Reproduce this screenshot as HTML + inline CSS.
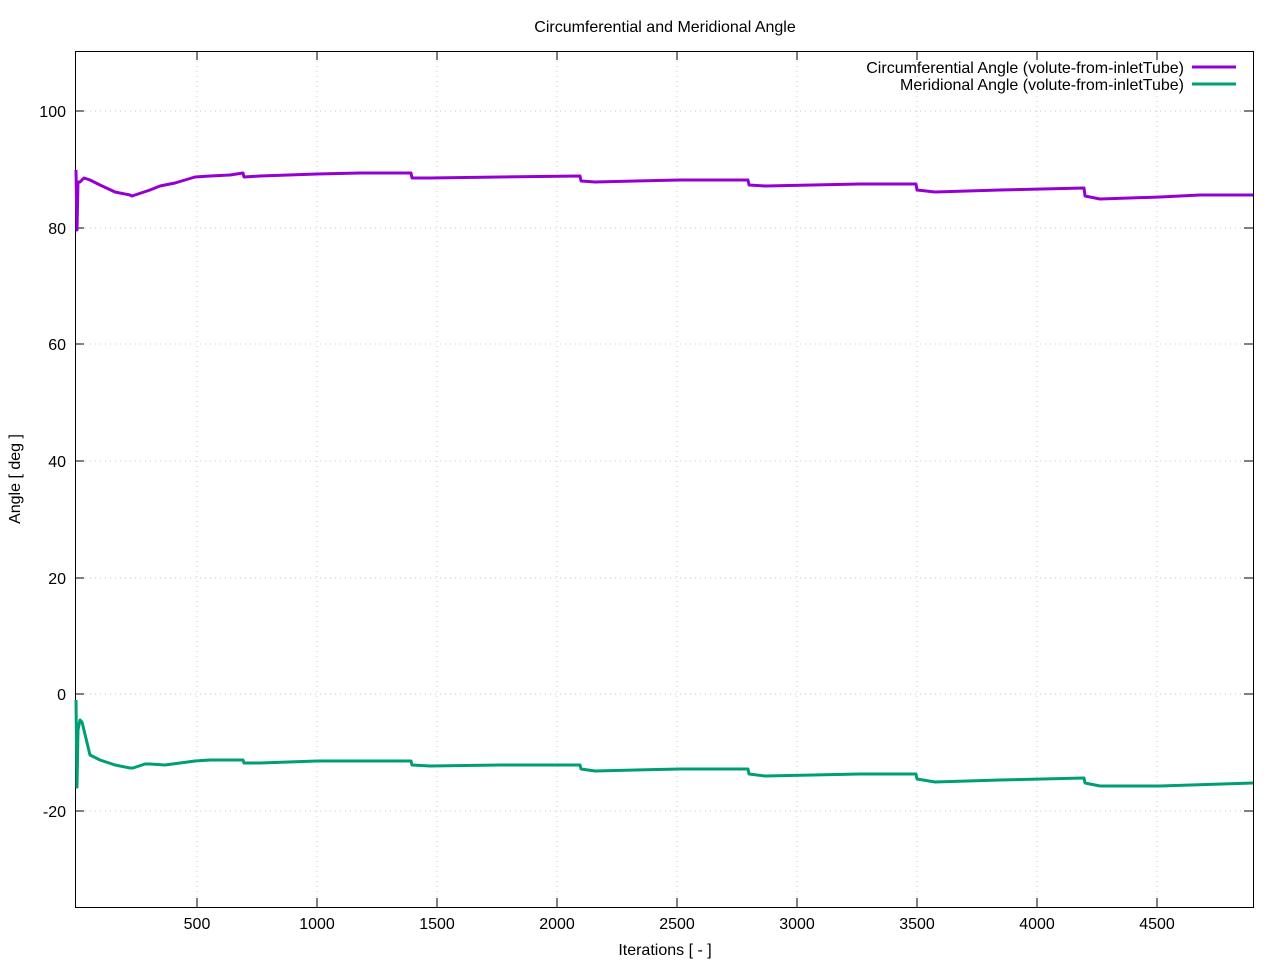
<!DOCTYPE html>
<html><head><meta charset="utf-8"><style>body{margin:0;background:#fff}svg{display:block;font-family:"Liberation Sans",sans-serif}</style></head><body>
<svg width="1280" height="960" viewBox="0 0 1280 960">
<rect width="1280" height="960" fill="#fff"/>
<g stroke="#c8c8c8" stroke-width="1" stroke-dasharray="1,4">
<line x1="197" y1="51" x2="197" y2="907"/><line x1="317" y1="51" x2="317" y2="907"/><line x1="437" y1="51" x2="437" y2="907"/><line x1="557" y1="51" x2="557" y2="907"/><line x1="677" y1="51" x2="677" y2="907"/><line x1="797" y1="51" x2="797" y2="907"/><line x1="917" y1="51" x2="917" y2="907"/><line x1="1037" y1="51" x2="1037" y2="907"/><line x1="1157" y1="51" x2="1157" y2="907"/>
<line x1="75" y1="111" x2="1253" y2="111"/><line x1="75" y1="228" x2="1253" y2="228"/><line x1="75" y1="344" x2="1253" y2="344"/><line x1="75" y1="461" x2="1253" y2="461"/><line x1="75" y1="578" x2="1253" y2="578"/><line x1="75" y1="694" x2="1253" y2="694"/><line x1="75" y1="811" x2="1253" y2="811"/>
</g>
<g stroke="#000" stroke-width="1">
<rect x="75.5" y="51.5" width="1178" height="856" fill="none"/>
<path d="M197,907v-9M317,907v-9M437,907v-9M557,907v-9M677,907v-9M797,907v-9M917,907v-9M1037,907v-9M1157,907v-9M197,51v9M317,51v9M437,51v9M557,51v9M677,51v9M797,51v9M917,51v9M1037,51v9M1157,51v9M75,111h9M75,228h9M75,344h9M75,461h9M75,578h9M75,694h9M75,811h9M1253,111h-9M1253,228h-9M1253,344h-9M1253,461h-9M1253,578h-9M1253,694h-9M1253,811h-9"/>
</g>
<g font-size="16" fill="#000">
<g text-anchor="middle"><text x="197" y="929">500</text><text x="317" y="929">1000</text><text x="437" y="929">1500</text><text x="557" y="929">2000</text><text x="677" y="929">2500</text><text x="797" y="929">3000</text><text x="917" y="929">3500</text><text x="1037" y="929">4000</text><text x="1157" y="929">4500</text>
<text x="665" y="955">Iterations [ - ]</text><text x="665" y="32">Circumferential and Meridional Angle</text></g>
<g text-anchor="end"><text x="66" y="117">100</text><text x="66" y="234">80</text><text x="66" y="350">60</text><text x="66" y="467">40</text><text x="66" y="584">20</text><text x="66" y="700">0</text><text x="66" y="817">-20</text>
<text x="1184" y="73">Circumferential Angle (volute-from-inletTube)</text><text x="1184" y="90">Meridional Angle (volute-from-inletTube)</text></g>
<text transform="translate(20,479) rotate(-90)" text-anchor="middle">Angle [ deg ]</text>
</g>
<line x1="1192" y1="67" x2="1236" y2="67" stroke="#9400d3" stroke-width="3"/>
<line x1="1192" y1="84" x2="1236" y2="84" stroke="#009e73" stroke-width="3"/>
<polyline fill="none" stroke="#9400d3" stroke-width="3" stroke-linejoin="round" points="76,170 77,230 78,182 80,182 84,178 90,180 100,185 115,192 130,195 132,196 150,190 160,186 175,183 195,177 210,176 230,175 243,173 244,177 260,176 317,174 360,173 411,173 412,178 430,178 500,177 580,176 581,181 595,182 680,180 748,180 749,185 765,186 860,184 916,184 917,190 935,192 1000,190 1084,188 1085,196 1100,199 1160,197 1200,195 1253,195"/>
<polyline fill="none" stroke="#009e73" stroke-width="3" stroke-linejoin="round" points="76,700 77,787 78,730 80,720 82,722 90,755 100,760 115,765 130,768 133,768 145,764 150,764 165,765 195,761 210,760 240,760 243,760 244,763 260,763 317,761 411,761 412,765 430,766 500,765 580,765 581,769 595,771 680,769 748,769 749,774 765,776 860,774 916,774 917,779 935,782 1000,780 1084,778 1085,783 1100,786 1160,786 1253,783"/>
</svg>
</body></html>
